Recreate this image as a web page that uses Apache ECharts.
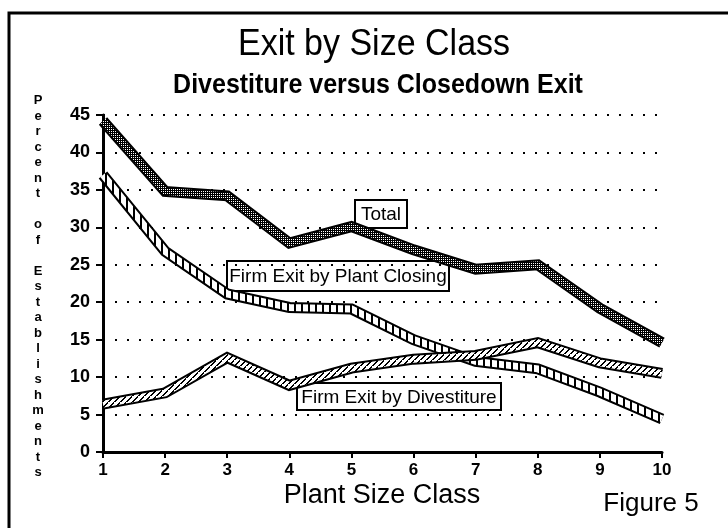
<!DOCTYPE html>
<html>
<head>
<meta charset="utf-8">
<script src="https://cdn.jsdelivr.net/npm/echarts@6/dist/echarts.min.js"></script>
<style>
  html, body { margin: 0; padding: 0; background: #fff; }
  #chart { width: 728px; height: 528px; }
</style>
</head>
<body>
<div id="chart"></div>
<script>
// plant size classes on the x axis
const sizeClasses = ['1', '2', '3', '4', '5', '6', '7', '8', '9', '10'];
// percent of establishments
const totalExit = [44.2, 34.8, 34.2, 27.9, 30.1, 27.0, 24.4, 25.0, 19.2, 14.6];
const plantClosing = [37.0, 26.8, 21.1, 19.3, 19.1, 15.0, 12.1, 11.1, 8.0, 4.4];
const divestiture = [6.4, 7.9, 12.6, 8.9, 11.2, 12.4, 12.9, 14.6, 11.9, 10.5];
const yAxisTitle = 'Percent of Establishments';

const FONT = '"Liberation Sans", Arial, Helvetica, sans-serif';

// small canvases used as stroke patterns for the banded lines
function makePattern(w, h, draw) {
  const c = document.createElement('canvas');
  c.width = w; c.height = h;
  const ctx = c.getContext('2d');
  ctx.fillStyle = '#fff';
  ctx.fillRect(0, 0, w, h);
  ctx.fillStyle = '#000';
  draw(ctx);
  return { image: c, repeat: 'repeat' };
}

const stipple = makePattern(2, 2, ctx => {   // dark with white dots
  ctx.fillRect(0, 0, 2, 2);
  ctx.fillStyle = '#fff';
  ctx.fillRect(1, 1, 1, 1);
});
const rungs = makePattern(7, 7, ctx => {     // ladder look
  ctx.fillRect(0, 0, 2, 7);
});
const hatch = makePattern(6, 6, ctx => {     // diagonal hatch
  for (let i = 0; i < 6; i++) {
    ctx.fillRect(6 - i - 1, i, 2, 1);
  }
  ctx.fillRect(0, 5, 1, 1);
});

// each series is drawn twice: black outline, then the pattern inside
function band(name, data, fill) {
  return [
    {
      name: name + ' outline',
      type: 'line',
      data: data,
      symbol: 'none',
      silent: true,
      lineStyle: { color: '#000', width: 11, join: 'miter' },
      emphasis: { disabled: true }
    },
    {
      name: name,
      type: 'line',
      data: data,
      symbol: 'none',
      silent: true,
      lineStyle: { color: fill, width: 7, join: 'miter' },
      emphasis: { disabled: true }
    }
  ];
}

function boxLabel(text, x, y, w, h) {
  return {
    type: 'group',
    x: x, y: y, z: 100,
    children: [
      { type: 'rect', shape: { x: 0, y: 0, width: w, height: h },
        style: { fill: '#fff', stroke: '#000', lineWidth: 2 } },
      { type: 'text', x: w / 2, y: h / 2 + 1,
        style: { text: text, fill: '#000',
                 font: '19px ' + FONT, textAlign: 'center', textVerticalAlign: 'middle' } }
    ]
  };
}

const chart = echarts.init(document.getElementById('chart'));

chart.setOption({
  backgroundColor: '#fff',
  animation: false,
  grid: { left: 103, right: 66, top: 115, bottom: 76 },
  xAxis: {
    type: 'category',
    data: sizeClasses,
    boundaryGap: false,
    axisLine: { lineStyle: { color: '#000', width: 3 } },
    axisTick: { show: true, length: 6, lineStyle: { color: '#000', width: 2 } },
    axisLabel: { color: '#000', fontFamily: FONT, fontSize: 17, fontWeight: 'bold', margin: 10 },
    splitLine: { show: false }
  },
  yAxis: {
    type: 'value',
    min: 0,
    max: 45,
    interval: 5,
    axisLine: { show: true, lineStyle: { color: '#000', width: 3 } },
    axisTick: { show: true, length: 7, lineStyle: { color: '#000', width: 2 } },
    axisLabel: { color: '#000', fontFamily: FONT, fontSize: 18, fontWeight: 'bold', margin: 13 },
    splitLine: { show: true, lineStyle: { color: '#000', width: 2, type: [2, 10] } }
  },
  series: [].concat(
    band('Total', totalExit, stipple),
    band('Firm Exit by Plant Closing', plantClosing, rungs),
    band('Firm Exit by Divestiture', divestiture, hatch)
  ),
  graphic: [
    { type: 'rect', shape: { x: 9, y: 13, width: 730, height: 540 },
      style: { fill: 'none', stroke: '#000', lineWidth: 3 }, silent: true },
    { type: 'text', x: 374, y: 26, scaleY: 1.1,
      style: { text: 'Exit by Size Class', fill: '#000',
               font: '34px ' + FONT, textAlign: 'center' } },
    { type: 'text', x: 378, y: 72, scaleY: 1.08,
      style: { text: 'Divestiture versus Closedown Exit', fill: '#000',
               font: 'bold 25px ' + FONT, textAlign: 'center' } },
    { type: 'text', x: 38, y: 93,
      style: { text: yAxisTitle.split('').join('\n'), fill: '#000',
               font: 'bold 13px ' + FONT, textAlign: 'center', lineHeight: 15.5 } },
    { type: 'text', x: 382, y: 482,
      style: { text: 'Plant Size Class', fill: '#000',
               font: '27px ' + FONT, textAlign: 'center' } },
    { type: 'text', x: 651, y: 491,
      style: { text: 'Figure 5', fill: '#000',
               font: '26px ' + FONT, textAlign: 'center' } },
    boxLabel('Total', 355, 200, 52, 28),
    boxLabel('Firm Exit by Plant Closing', 227, 261, 222, 30),
    boxLabel('Firm Exit by Divestiture', 297, 383, 204, 27)
  ]
});
</script>
</body>
</html>
